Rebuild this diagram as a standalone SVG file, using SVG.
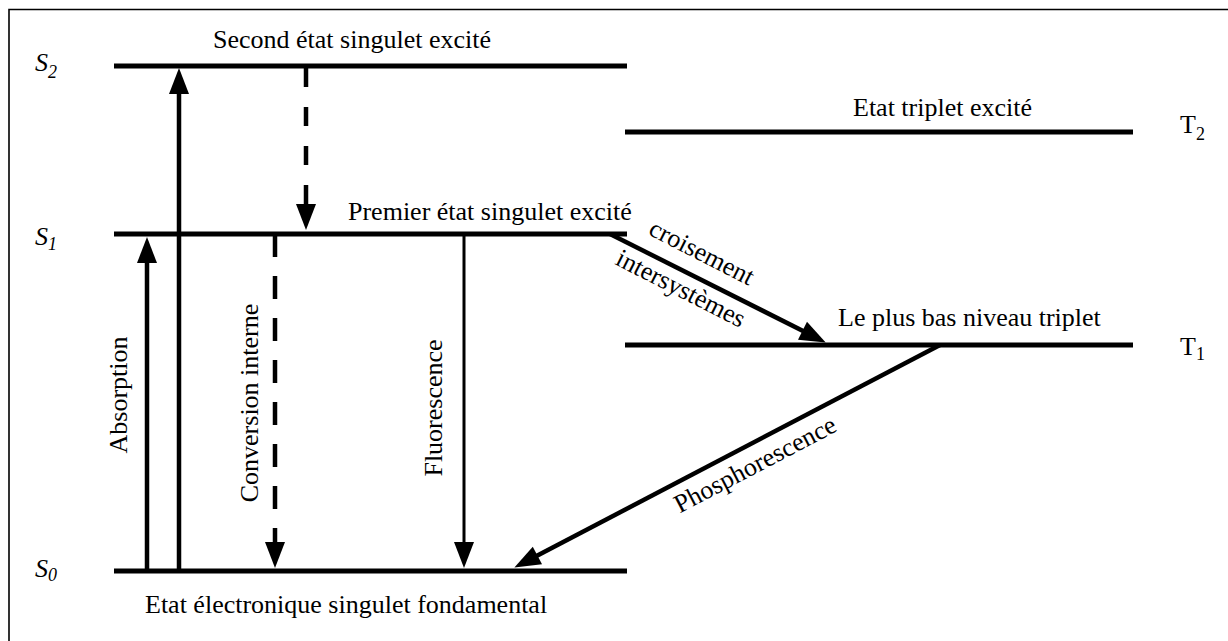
<svg xmlns="http://www.w3.org/2000/svg" width="1228" height="641" viewBox="0 0 1228 641">
  <style>
    text { font-family: "Liberation Serif", "Times New Roman", serif; font-size: 26px; fill: #000; }
    .state { font-style: italic; }
    .sub { font-size: 18px; }
    .level { stroke: #000; stroke-width: 5; fill: none; }
    .arrow { stroke: #000; stroke-width: 4.5; fill: none; marker-end: url(#head); }
    .thin { stroke-width: 3; }
    .dash1 { stroke-dasharray: 19 20; }
    .dash2 { stroke-dasharray: 23 19; }
  </style>
  <defs>
    <marker id="head" markerUnits="userSpaceOnUse" markerWidth="26" markerHeight="20" refX="14" refY="10" orient="auto" overflow="visible">
      <path d="M0,0 L26,10 L0,20 Z" fill="#000"/>
    </marker>
  </defs>

  <rect width="1228" height="641" fill="#fff"/>
  <!-- frame (top and left edges) -->
  <path d="M9,641 V9.5 H1228" fill="none" stroke="#000" stroke-width="1.6"/>

  <!-- energy levels -->
  <g id="S2">
    <line class="level" x1="114" y1="66" x2="627" y2="66"/>
    <text x="213" y="48">Second état singulet excité</text>
    <text class="state" x="35" y="71">S<tspan class="sub" dy="7">2</tspan></text>
  </g>
  <g id="T2">
    <line class="level" x1="625" y1="132" x2="1133" y2="132"/>
    <text x="853" y="116">Etat triplet excité</text>
    <text x="1180" y="133">T<tspan class="sub" dy="7">2</tspan></text>
  </g>
  <g id="S1">
    <line class="level" x1="114" y1="234" x2="627" y2="234"/>
    <text x="348" y="220">Premier état singulet excité</text>
    <text class="state" x="35" y="245">S<tspan class="sub" dy="5">1</tspan></text>
  </g>
  <g id="T1">
    <line class="level" x1="625" y1="345" x2="1133" y2="345"/>
    <text x="838" y="326">Le plus bas niveau triplet</text>
    <text x="1180" y="355">T<tspan class="sub" dy="5">1</tspan></text>
  </g>
  <g id="S0">
    <line class="level" x1="114" y1="571" x2="627" y2="571"/>
    <text x="145" y="613">Etat électronique singulet fondamental</text>
    <text class="state" x="35" y="577">S<tspan class="sub" dy="4">0</tspan></text>
  </g>

  <!-- transitions -->
  <g id="connectors">
    <g id="absorption-S2">
      <line class="arrow" x1="179" y1="569" x2="179" y2="80"/>
    </g>
    <g id="absorption-S1">
      <line class="arrow" x1="147" y1="569" x2="147" y2="249"/>
      <text transform="translate(127,395) rotate(-90)" text-anchor="middle">Absorption</text>
    </g>
    <g id="conversion-S2-S1">
      <line class="arrow dash1" x1="306" y1="68" x2="306" y2="218"/>
    </g>
    <g id="conversion-S1-S0">
      <line class="arrow dash2" x1="275" y1="234" x2="275" y2="556"/>
      <text transform="translate(258,403) rotate(-90)" text-anchor="middle">Conversion interne</text>
    </g>
    <g id="fluorescence">
      <line class="arrow thin" x1="464" y1="236" x2="464" y2="556"/>
      <text transform="translate(442,408) rotate(-90)" text-anchor="middle">Fluorescence</text>
    </g>
    <g id="intersystem-crossing">
      <line class="arrow" x1="610" y1="234" x2="815" y2="337"/>
      <text transform="translate(698,260) rotate(27)" text-anchor="middle">croisement</text>
      <text transform="translate(677,296) rotate(27)" text-anchor="middle">intersystèmes</text>
    </g>
    <g id="phosphorescence">
      <line class="arrow" x1="940" y1="345" x2="525" y2="562"/>
      <text transform="translate(759,472) rotate(-27.6)" text-anchor="middle">Phosphorescence</text>
    </g>
  </g>
</svg>
